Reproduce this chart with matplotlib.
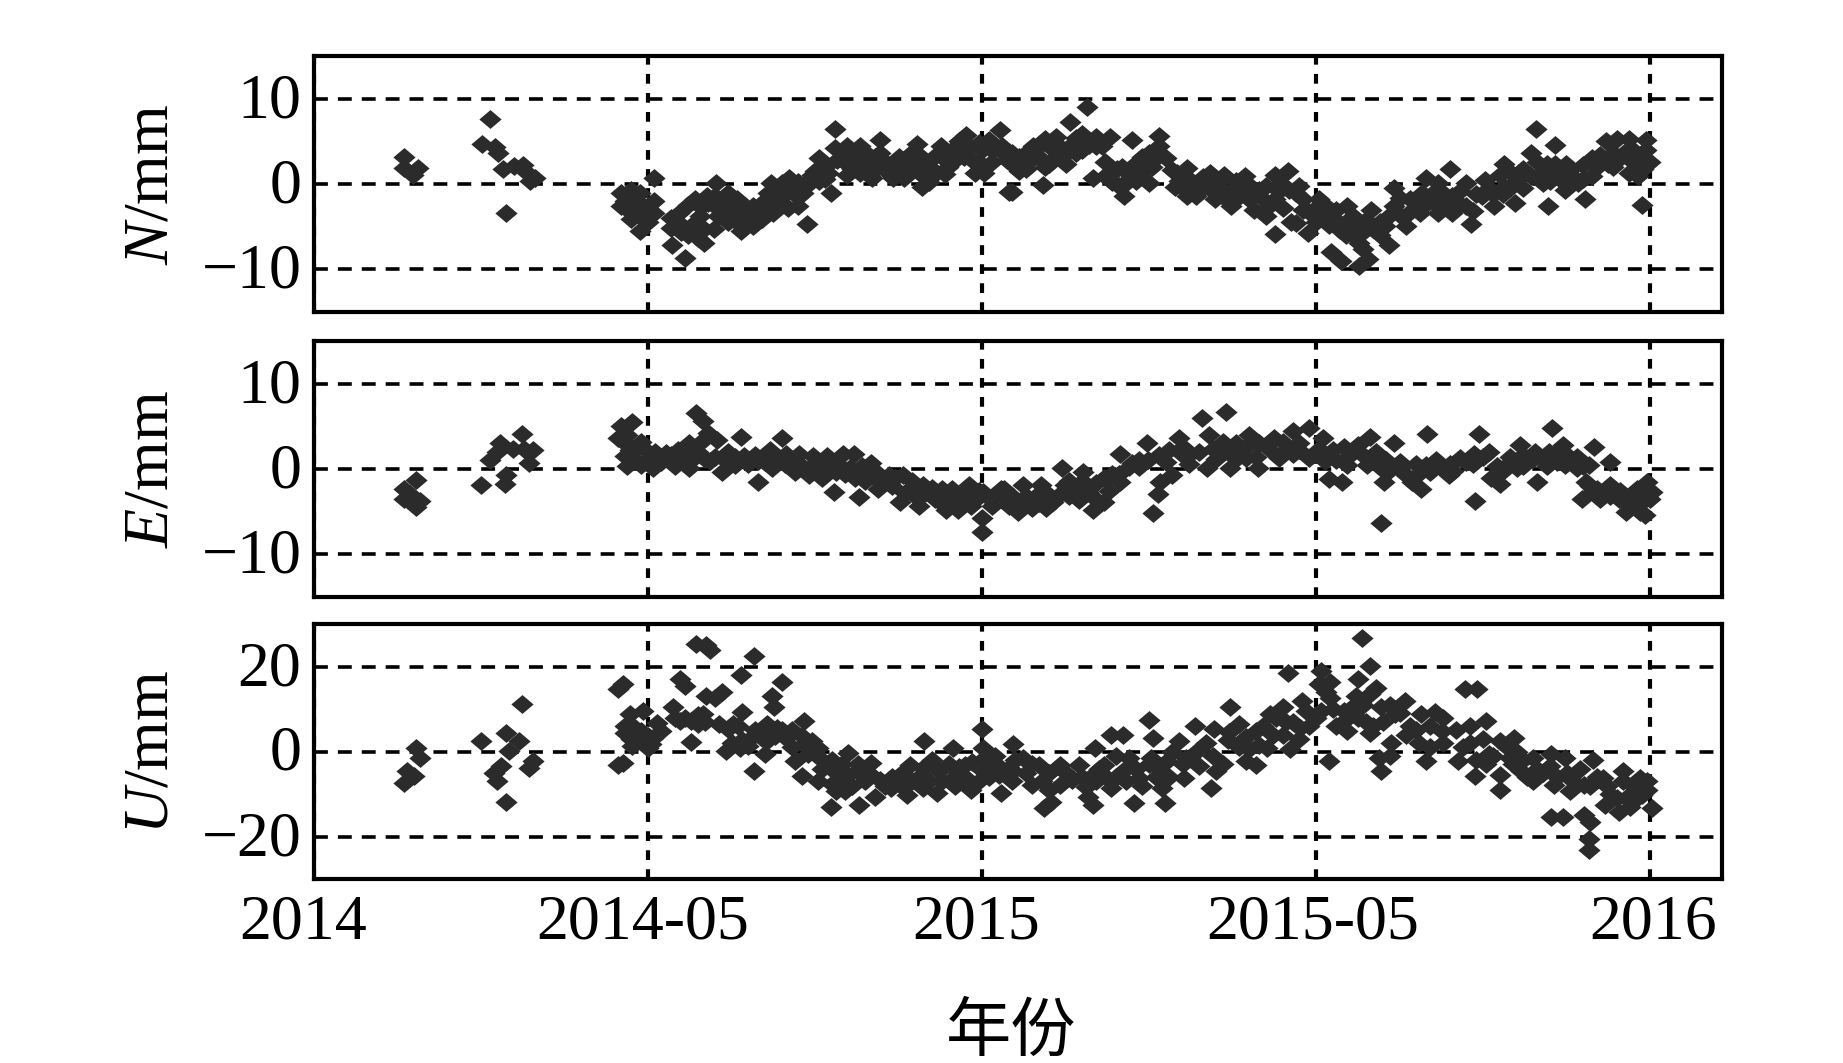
import matplotlib
matplotlib.use('Agg')
import matplotlib.pyplot as plt
from matplotlib.transforms import ScaledTranslation

plt.rcParams['font.family'] = ['Liberation Serif', 'Noto Sans CJK SC']
plt.rcParams['mathtext.fontset'] = 'custom'
plt.rcParams['mathtext.it'] = 'Liberation Serif:italic'
plt.rcParams['mathtext.rm'] = 'Liberation Serif'
plt.rcParams['lines.scale_dashes'] = False

# data, x is counted in tick intervals (0 = 2014, 1 = 2014-05, ...)
tick_labels = ['2014', '2014-05', '2015', '2015-05', '2016']

n_pts = [(.27,3.2),(.27,1.9),(.31,1.9),(.295,1.1),(.526,7.6),(.503,4.7),(.541,4.3),(.551,3.6),(.574,-3.4),(.565,1.7),(.599,2.1),(.626,2.2),(.633,1.5),(.661,.7),(.647,.3),
(.919,-1),(.919,-2.6),(.949,-.7),(.949,-1.8),(.949,-4.1),(.977,-5.5),(.977,-1),(.984,-2.6),(.984,-4.1),(1.018,.7),(1.018,-3.4),(1.018,-2),(1,-4.5),(1.073,-7.2),(1.111,-8.7),(1.093,-3.4),(1.09,-4.5),(1.128,-4.9),(1.14,-1.8),(1.169,-6.9),(1.169,-5.3),(1.176,-1.4),(1.203,.1),(1.2,-1.4),(1.21,-3.8),(1.155,-3.8),(1.196,-5.3),(1.238,-1),(1.238,-4.5),(1.265,-1.8),(1.279,-5.5),(1.279,-3.4),(1.313,-4.9),(1.313,-2.6),(1.34,-4.1),(1.34,-2.2),(1.368,.1),(1.375,-3.4),(1.375,-1.8),(1.4,.1),(1.4,-2.2),(1.423,.7),(1.437,-1),(1.45,-2.6),(1.475,-4.7),(1.463,-1),(1.478,.3),(1.512,3),(1.512,1.5),(1.512,.3),(1.547,-1),(1.54,1.3),(1.56,6.5),(1.56,4.2),(1.567,2.8),(1.595,4.4),(1.595,2.4),(1.595,1.1),(1.636,4.4),(1.636,3.2),(1.636,1.3),(1.67,2.8),(1.67,.7),(1.694,5.2),(1.694,3.6),(1.732,2.4),(1.732,.7),(1.767,2.8),(1.767,.7),(1.804,4.7),(1.8,2.4),(1.82,-.3),(1.82,1.1),(1.856,3.2),(1.863,1.3),(1.876,4.4),(1.897,2),(1.931,5),(1.945,3.2),(1.952,5.7),(1.979,1.3),(2,4),(2.007,1.3),(2.02,5.2),(2.055,6.3),(2.055,4),(2.082,-.9),(2.096,3.2),
(2.061,4.4),(2.089,-.9),(2.075,2.8),(2.11,1.5),(2.11,3.2),(2.152,4.4),(2.145,2.8),(2.183,-.1),(2.187,5.3),(2.187,2),(2.22,5.5),(2.22,3.2),(2.25,2.4),(2.264,7.3),(2.264,4.4),(2.315,9),(2.3,4),(2.3,5.9),(2.34,5.5),(2.34,4.4),(2.382,5.5),(2.368,2.6),(2.333,.7),(2.368,.9),(2.403,1.7),(2.424,-1.4),(2.431,.1),(2.45,5.2),(2.459,2.4),(2.473,1.3),(2.5,.1),(2.5,3.6),(2.529,5.6),(2.529,4.4),(2.55,3),(2.584,1.3),(2.612,1.9),(2.612,-1.4),(2.577,-.3),(2.647,.1),(2.64,-1.4),(2.682,1.3),(2.696,-1.8),(2.696,-.3),(2.724,1.1),(2.745,-2.6),(2.745,-.7),(2.787,.9),(2.787,-1),(2.815,-3),(2.829,-.7),(2.877,1.1),(2.877,-1.8),(2.877,-5.9),(2.849,-3.8),(2.915,1.5),(2.919,-.7),(2.926,-4.5),(2.961,-1.8),(2.975,-5.7),(3.01,-1.8),(3.024,-3.8),(3.045,-8),(3.073,-9),(3.059,-3),(3.093,-2.6),(3.093,-4.9),(3.128,-9.6),(3.156,-8.8),(3.128,-6.9),(3.12,-4.9),(3.163,-3),(3.17,-5.3),(3.219,-7.2),(3.205,-4.9),(3.233,-.5),(3.233,-2.6),(3.268,-4.9),(3.282,-1.8),(3.317,-1),(3.31,-3.4),(3.328,.7),(3.365,.1),(3.365,-3.4),(3.4,1.7),(3.407,-1.4),(3.407,-3.4),(3.463,-4.7),(3.449,-2.6),(3.449,.1),(3.505,.5),(3.498,-1.4),(3.533,-2.6),(3.561,2.4),(3.561,-.3),(3.596,-2.2),(3.602,.5),(3.644,3.6),(3.644,.9),(3.658,6.5),(3.695,-2.6),(3.714,4.6),(3.714,2.4),(3.7,.3),(3.749,2.4),(3.745,-.7),(3.784,.1),(3.805,-1.8),(3.826,3),(3.826,.9),(3.868,5),(3.874,2.4),(3.902,5.3),(3.923,3.6),(3.937,1.3),(3.937,5.3),(3.986,5.2),(3.986,4),(4,2.6),(3.976,-2.5),(3.965,.9),
(.93,-2),(.94,-3),(.96,-3.2),(.96,-2),(.97,-3.5),(.99,-3.3),(1,-2.6),(1,-3.5),(1.07,-4),(1.07,-5.2),(1.1,-5.6),(1.12,-6),(1.14,-5.6),(1.15,-6.3),(1.12,-2.5),(1.16,-2.7),(1.18,-2.2),(1.2,-2.6),(1.22,-2),(1.23,-2.9),(1.25,-3),(1.26,-3.8),(1.27,-4.6),(1.29,-2.6),(1.3,-3.8),(1.32,-3.6),(1.33,-3),(1.35,-3),(1.36,-1),(1.39,-1),(1.41,-1.2),(1.42,-2.8),(1.43,-.3),(1.45,-1.5),(1.45,.2),(1.47,-.3),(1.49,1),(1.5,1.5),(1.53,2),(1.53,.6),(1.58,3.2),(1.61,3.4),(1.61,1.8),(1.65,2),(1.65,3.8),(1.68,3.2),(1.68,1.8),(1.71,2.6),(1.71,1.6),(1.75,3.2),(1.75,1.6),(1.78,3.4),(1.78,1.6),(1.81,3.4),(1.83,2),(1.84,.2),(1.85,1.8),(1.88,3.2),(1.89,1.2),(1.91,4),(1.92,2.8),(1.96,4.4),(1.97,2.8),(1.99,4.8),(1.99,2.6),(2.03,4),(2.03,2.6),
(2.09,3.6),(2.09,2.4),(2.13,1.8),(2.13,3.6),(2.17,3.2),(2.17,4.4),(2.2,4.4),(2.2,2.4),(2.23,4.4),(2.24,3.2),(2.28,5.4),(2.28,3.6),(2.32,4.6),(2.36,4.4),(2.39,1.6),(2.39,.2),(2.41,-.2),(2.42,2),(2.44,.6),(2.44,1.2),(2.46,.4),(2.48,2.2),(2.48,3.2),(2.51,2),(2.52,3),(2.57,1.6),(2.59,.4),(2.6,-.5),(2.62,.6),(2.65,-.7),(2.66,.8),(2.68,-.5),(2.71,.3),(2.72,-1),(2.73,-1.8),(2.76,.3),(2.77,-.8),(2.76,-1.8),(2.8,-.1),(2.8,-1.8),(2.84,-1.8),(2.85,-.2),(2.86,-2.6),(2.89,-.8),(2.9,-.1),(2.9,-2.8),(2.94,-1),(2.95,-.2),(2.94,-4.6),(2.96,-3),(2.98,-3.3),(3,-2.8),(3,-4.5),(3.03,-2.6),(3.04,-4.8),(3.06,-4.2),(3.07,-5.4),(3.09,-6),(3.11,-3.8),(3.11,-6),(3.14,-5.6),(3.14,-7.6),(3.15,-4.2),(3.19,-4.4),(3.19,-6),(3.22,-3.6),(3.25,-3.6),(3.25,-1.6),(3.28,-3.3),(3.3,-2),(3.33,-2.4),(3.35,-1),(3.36,-2.4),(3.38,-1),(3.39,-2.6),(3.43,-.8),(3.43,-2.4),(3.47,-3.2),(3.48,-1.2),(3.5,-1),(3.52,-.6),(3.53,-1.2),(3.55,1),(3.56,-1.2),(3.58,1.4),(3.58,-.5),(3.62,1.8),(3.62,-.5),(3.66,2.6),(3.67,1.2),(3.68,.1),(3.69,2.4),(3.72,1.6),(3.73,.6),(3.76,1.6),(3.77,.8),(3.8,2.2),(3.8,.6),(3.84,2),(3.85,3.4),(3.89,3.6),(3.89,2),(3.91,3),(3.95,4),(3.95,2.6),(3.97,3.4),(3.98,1.8)]

e_pts = [(.306,-1.3),(.269,-2.4),(.269,-3.5),(.306,-4.4),(.316,-3.7),(.286,-2.9),(.499,-1.9),(.526,1.1),(.558,3),(.571,-1.7),(.574,-.7),(.622,4.1),(.595,2.4),(.657,2.2),(.643,.7),(.547,2),(.629,2.4),
(.918,5),(.952,5.5),(.911,3.6),(.938,4),(.945,2.2),(.938,.3),(.979,3.2),(.979,.5),(1.014,.1),(1.021,2),(1.055,1.9),(1.082,.3),(1.089,2.2),(1.124,.1),(1.124,3),(1.144,6.6),(1.165,5.6),(1.179,4.2),(1.151,2),(1.206,3.4),(1.185,.9),(1.22,-.3),(1.24,2),(1.279,3.7),(1.261,.5),(1.288,1.5),(1.33,-1.5),(1.33,.9),(1.364,2.2),(1.401,3.6),(1.371,.1),(1.412,1.7),(1.44,-.3),(1.453,1.7),(1.481,-.7),(1.495,1.5),(1.522,-1.1),(1.536,1.5),(1.556,-2.7),(1.563,-.3),(1.584,1.7),(1.604,.1),(1.632,-3.3),(1.618,1.7),(1.659,-.7),(1.666,.7),(1.687,-2.3),(1.721,-.7),(1.755,-3.9),(1.762,-.7),(1.783,-2.3),(1.81,-4.3),(1.824,-1.9),(1.859,-3.5),(1.893,-4.8),(1.893,-3.1),(1.927,-4.8),(1.934,-3.1),(1.962,-1.9),(1.968,-4.3),(2,-7.4),(2,-5.8),(2.003,-2.7),(2.03,-4.3),(2.058,-2.3),(2.08,-4.3),
(2.066,-2.3),(2.107,-5),(2.121,-1.9),(2.121,-3.9),(2.149,-4.6),(2.177,-1.9),(2.191,-4.6),(2.212,-3.9),(2.24,.1),(2.247,-1.9),(2.275,-2.7),(2.303,-.3),(2.331,-4.8),(2.317,-2.7),(2.366,-3.9),(2.366,-1.1),(2.414,1.7),(2.414,-1.5),(2.449,.7),(2.495,3),(2.512,-5.2),(2.526,-2.9),(2.533,-1.5),(2.498,1),(2.561,2.2),(2.589,3.6),(2.568,-.7),(2.623,1.7),(2.658,6),(2.73,6.7),(2.679,4),(2.672,.1),(2.721,3.2),(2.742,.1),(2.749,2),(2.798,4),(2.791,1.3),(2.826,.1),(2.874,3.6),(2.888,1.3),(2.93,4.4),(2.93,1.7),(2.979,4.8),(2.979,1.3),(3.021,3.6),(3.028,.9),(3.039,-1.2),(3.077,-1.5),(3.084,2.6),(3.126,2.8),(3.091,.5),(3.16,3.8),(3.153,.5),(3.234,3),(3.202,-1.5),(3.195,.1),(3.195,-6.3),(3.251,.1),(3.286,-1.5),(3.314,-2.3),(3.332,4.1),(3.328,.5),(3.377,.1),(3.397,-.7),(3.432,1.3),(3.474,1.7),(3.477,-3.7),(3.488,4.1),(3.516,2),(3.523,-1.1),(3.551,-1.7),(3.572,.5),(3.611,2.8),(3.6,.1),(3.66,-1.5),(3.655,2),(3.697,2),(3.707,4.8),(3.739,2.8),(3.746,.5),(3.781,.1),(3.833,2.6),(3.816,.5),(3.881,.8),(3.795,-3.5),(3.809,-1.5),(3.851,-3.5),(3.879,-1.9),(3.906,-3.5),(3.927,-5),(3.948,-3.1),(3.983,-5.4),(3.99,-1.5),(4.004,-2.7),(3.976,-3.9),
(.93,1.5),(.93,3),(.96,2.2),(.96,1),(1,2),(1,1),(1.04,1.2),(1.04,.8),(1.07,1.6),(1.11,1.4),(1.14,1.4),(1.16,3.2),(1.17,1.2),(1.2,1.4),(1.23,1),(1.26,1.4),(1.3,.6),(1.32,1.6),(1.35,.8),(1.38,1),(1.41,.6),(1.43,.8),(1.46,.4),(1.49,.4),(1.51,-.2),(1.51,.8),(1.54,-.4),(1.54,.4),(1.57,.6),(1.59,-.6),(1.62,-1),(1.64,.4),(1.65,-1.4),(1.68,-.2),(1.69,-1.4),(1.71,-1.2),(1.73,-2),(1.74,-1),(1.77,-2.8),(1.79,-1.4),(1.8,-3.2),(1.83,-2.8),(1.85,-2.2),(1.87,-3.8),(1.88,-2.4),(1.9,-3.6),(1.91,-2.4),(1.94,-3.8),(1.95,-2.8),(1.98,-3.6),(1.99,-2.6),(2.02,-3.4),(2.04,-3.2),(2.06,-3.2),(2.09,-3.2),(2.13,-3.2),(2.16,-3.2),(2.17,-4),(2.2,-3),(2.23,-3),(2.26,-1.4),(2.26,-3.2),(2.29,-1.8),(2.29,-3.6),(2.31,-1.8),(2.33,-3.2),(2.34,-1.6),(2.38,-2.6),(2.39,-.6),(2.41,-.6),(2.44,.2),(2.47,1),(2.47,.2),(2.53,1.6),(2.55,.8),(2.6,2.6),(2.6,1.6),(2.62,.6),(2.65,2),(2.69,2.4),(2.7,1.2),(2.72,2),(2.76,3),(2.76,1.2),(2.79,2.6),(2.82,1.4),(2.83,3),(2.86,2.4),(2.9,3.2),(2.91,2.2),(2.95,3),(2.95,2.2),(3.01,2.4),(3.05,2.2),(3.06,1),(3.1,1.6),(3.14,1.6),(3.18,2),(3.18,1),(3.21,1),(3.22,-.1),(3.25,.8),(3.27,-.7),(3.3,.6),(3.3,-.8),(3.34,-.3),(3.36,1),(3.4,.6),(3.41,-.2),(3.45,.8),(3.47,.6),(3.5,1.4),(3.54,.4),(3.56,-.2),(3.58,1.4),(3.62,1.6),(3.62,.4),(3.65,1.2),(3.68,1.2),(3.69,.4),(3.72,.8),(3.72,2),(3.75,1.6),(3.77,.8),(3.78,1.4),(3.8,.4),(3.82,-2),(3.83,-2.6),(3.84,-2.4),(3.87,-2.4),(3.88,-3.2),(3.91,-2.6),(3.92,-3.6),(3.96,-4.2),(3.96,-2.4),(3.97,-5),(3.98,-3),(4,-3.5)]

u_pts = [(.306,.9),(.316,-1.5),(.279,-4.7),(.269,-7.4),(.299,-5.8),(.499,2.5),(.622,11.1),(.574,4.4),(.615,2.5),(.585,.1),(.56,-3.5),(.54,-5.1),(.547,-7),(.574,-11.9),(.657,-2.3),(.643,-3.9),
(.924,15.9),(.911,14.7),(.924,-2.7),(.911,-3.1),(.945,8.8),(.931,4.4),(.952,1.3),(.986,9.6),(.979,4.8),(1,.9),(1.027,6.8),(1.014,3.2),(1.076,10.4),(1.096,17.1),(1.11,15.5),(1.096,7.2),(1.13,2.3),(1.13,7.2),(1.172,25),(1.144,25.2),(1.185,23.8),(1.172,13.1),(1.165,8.8),(1.22,13.9),(1.199,12.7),(1.213,6.4),(1.234,.1),(1.254,6.4),(1.279,17.9),(1.316,22.4),(1.282,9.2),(1.275,.9),(1.316,-4.7),(1.309,3.2),(1.35,-.7),(1.357,6.4),(1.401,16.3),(1.371,13.1),(1.378,10.4),(1.385,5.6),(1.412,3.2),(1.44,-2.3),(1.467,7.2),(1.46,-5.8),(1.467,1.7),(1.508,-7),(1.508,.9),(1.549,-13),(1.556,-4.7),(1.563,-9.4),(1.598,-.3),(1.591,-9.4),(1.632,-12.7),(1.625,-4.7),(1.666,-2.7),(1.68,-10.6),(1.694,-6.6),(1.728,-8.6),(1.776,-10.2),(1.783,-3.1),(1.827,2.5),(1.824,-8.6),(1.824,-3.9),(1.865,-9.8),(1.872,-4.7),(1.913,.9),(1.913,-6.2),(1.948,-3.1),(1.968,-9),(2,5.2),(2.003,.9),(2.003,-4.7),(2.03,-2.3),(2.058,-9.8),(2.051,-5.5),(2.092,1.7),(2.092,-4.7),
(2.08,-3.9),(2.121,-1.5),(2.149,-7.8),(2.184,-13.4),(2.205,-11.8),(2.17,-3.1),(2.233,-3.1),(2.233,-7.8),(2.289,-3.1),(2.317,-10.6),(2.331,-12.6),(2.338,.9),(2.331,-5.5),(2.387,-8.6),(2.387,4),(2.421,4),(2.366,-3.1),(2.421,-4.7),(2.456,-12.2),(2.47,-6.2),(2.501,7.4),(2.512,3.2),(2.505,-1.5),(2.547,-12.2),(2.54,-8.6),(2.554,-2.3),(2.589,2.5),(2.603,-6.2),(2.61,-1.5),(2.638,6),(2.644,.1),(2.686,-8.6),(2.693,5.2),(2.7,-4.7),(2.742,10.4),(2.735,2.8),(2.791,-2.3),(2.77,6.4),(2.819,-3.1),(2.819,4.8),(2.861,8.8),(2.854,.9),(2.916,18.4),(2.923,.5),(2.902,10.4),(2.902,4),(2.958,11.9),(2.951,5.6),(3.014,19),(3.014,9.6),(3,8),(3.039,-2.3),(3.042,16.3),(3.042,12.7),(3.091,4.8),(3.084,9.6),(3.137,26.8),(3.16,20.2),(3.126,17.1),(3.16,4.4),(3.126,8),(3.16,13.5),(3.195,10.4),(3.195,-4.7),(3.188,-1.5),(3.223,2),(3.265,11.9),(3.237,8.8),(3.314,8.8),(3.328,-2.3),(3.307,2),(3.446,14.7),(3.481,14.7),(3.356,9.2),(3.377,4.8),(3.425,-2.3),(3.477,-5.8),(3.46,6),(3.509,7.2),(3.516,-.7),(3.551,-9),(3.551,-5.5),(3.593,3.2),(3.579,-1.5),(3.614,-4.7),(3.649,-7),(3.649,-1.5),(3.704,-15.3),(3.739,-15.3),(3.704,-.7),(3.746,-1.5),(3.711,-7.8),(3.76,-9.4),(3.801,-14.9),(3.82,-16.5),(3.816,-20.5),(3.816,-23.2),(3.83,-2),(3.801,-7.8),(3.858,-6.2),(3.865,-12.6),(3.907,-14.2),(3.92,-4.7),(3.927,-11),(3.969,-6.2),(3.976,-10.2),(4.004,-13.4),(3.99,-9),
(.93,6),(.95,3),(.96,5.6),(.97,3),(.99,2.5),(1,3.6),(1.01,1.8),(1.04,4.8),(1.08,8),(1.11,8),(1.15,6.4),(1.15,8.6),(1.17,7),(1.24,5.4),(1.27,6),(1.25,2),(1.28,2.8),(1.3,1.2),(1.32,5),(1.34,3.2),(1.36,2.6),(1.38,3.6),(1.4,5),(1.43,5),(1.43,1),(1.46,3.6),(1.48,-.5),(1.49,2.4),(1.52,-2),(1.52,-4),(1.55,-2),(1.55,-7.6),(1.58,-3),(1.58,-6),(1.6,-5.6),(1.61,-8),(1.63,-3),(1.65,-7),(1.66,-5),(1.71,-8),(1.73,-6),(1.75,-7.6),(1.76,-5),(1.79,-7),(1.81,-6),(1.84,-7),(1.85,-2),(1.88,-7),(1.9,-3),(1.92,-8),(1.93,-3.6),(1.95,-6),(1.97,-2.5),(1.99,-7),(2,-2),(2.02,-6),(2.04,-1),(2.06,-4),(2.09,-7),(2.1,-2),(2.13,-5),(2.15,-3),(2.18,-7),(2.2,-5),(2.2,-9),(2.25,-5),(2.27,-6.6),(2.3,-6),(2.31,-8.4),(2.34,-7),(2.35,-4),(2.37,-6),(2.4,-6),(2.4,-1),(2.43,-7),(2.44,-1.6),(2.46,-4),(2.48,-8),(2.5,-3),(2.52,-6),(2.53,-4),(2.56,-6),(2.57,0),(2.6,-3),(2.62,-1.6),(2.65,-3.5),(2.67,2),(2.69,-1),(2.72,-3),(2.74,4.5),(2.77,1),(2.79,3.5),(2.8,.5),(2.83,1.5),(2.84,6),(2.87,4),(2.88,8),(2.91,7),(2.93,7),(2.95,3),(2.97,9.5),(2.98,6),(3.01,16),(3.03,14),(3.05,10),(3.06,6),(3.08,7),(3.1,10),(3.12,13),(3.14,11),(3.15,7),(3.17,6),(3.18,15),(3.2,7),(3.22,-1),(3.22,11),(3.25,9),(3.27,4),(3.28,6),(3.3,5),(3.34,1),(3.34,6),(3.38,8),(3.38,2),(3.42,5),(3.44,1),(3.46,2),(3.48,-2),(3.5,3),(3.51,-3),(3.53,-1),(3.55,2.5),(3.57,1),(3.59,-3),(3.6,0),(3.62,-2),(3.63,-6),(3.66,-4),(3.68,-5),(3.7,-3.5),(3.72,-6),(3.75,-5),(3.77,-7),(3.79,-4),(3.82,-8),(3.84,-6),(3.87,-8),(3.88,-10),(3.9,-11),(3.92,-7),(3.94,-13),(3.95,-8),(3.97,-8),(3.99,-7),(3.96,-11)]

W, H = 1843, 1063
fig = plt.figure(figsize=(W / 100, H / 100), dpi=100)

# slightly wide diamond, the original picture is stretched
diamond = [(-1, 0), (0, .85), (1, 0), (0, -.85), (-1, 0)]
# the x labels do not sit exactly on their ticks in the reference (pixels)
label_shift = [-11, -5, -6, -3, 3]

panels = [
    (n_pts, r'$\mathit{N}$/mm', 56, 312, 15, [-10, 0, 10]),
    (e_pts, r'$\mathit{E}$/mm', 341, 597, 15, [-10, 0, 10]),
    (u_pts, r'$\mathit{U}$/mm', 624, 879, 30, [-20, 0, 20]),
]

for i, (pts, label, top, bottom, lim, yt) in enumerate(panels):
    ax = fig.add_axes([314 / W, 1 - bottom / H, (1722 - 314) / W, (bottom - top) / H])
    x = [p[0] for p in pts]
    y = [p[1] for p in pts]
    ax.plot(x, y, linestyle='none', marker=diamond, markersize=16,
            color='#2b2b2b', markeredgewidth=0, zorder=3)
    ax.set_xlim(0, 4.215)
    ax.set_ylim(-lim, lim)
    ax.set_xticks(range(5))
    ax.set_yticks(yt)
    ax.set_axisbelow(True)
    ax.grid(axis='y', color='k', linewidth=2.6, linestyle=(0, (10, 7.2)))
    ax.grid(axis='x', color='k', linewidth=3, linestyle=(0, (7, 6.7)))
    ax.tick_params(length=0, labelsize=46, pad=9)
    ax.tick_params(axis='x', pad=11.5)
    for lab in ax.get_yticklabels():
        lab.set_transform(lab.get_transform() + ScaledTranslation(0, 3.5 / 100, fig.dpi_scale_trans))
    if i == 2:
        ax.set_xticklabels(tick_labels)
        for lab, dx in zip(ax.get_xticklabels(), label_shift):
            lab.set_transform(lab.get_transform() + ScaledTranslation(dx / 100, 0, fig.dpi_scale_trans))
    else:
        ax.tick_params(labelbottom=False)
    for s in ax.spines.values():
        s.set_linewidth(3)
    ax.set_ylabel(label, fontsize=46)
    ax.yaxis.set_label_coords(-0.094, 0.5)

fig.text(1011 / W, 1 - 1033 / H, '年份', fontsize=47, ha='center', va='center',
         family=['Noto Sans CJK SC'])

plt.savefig('out.png', dpi=100)
